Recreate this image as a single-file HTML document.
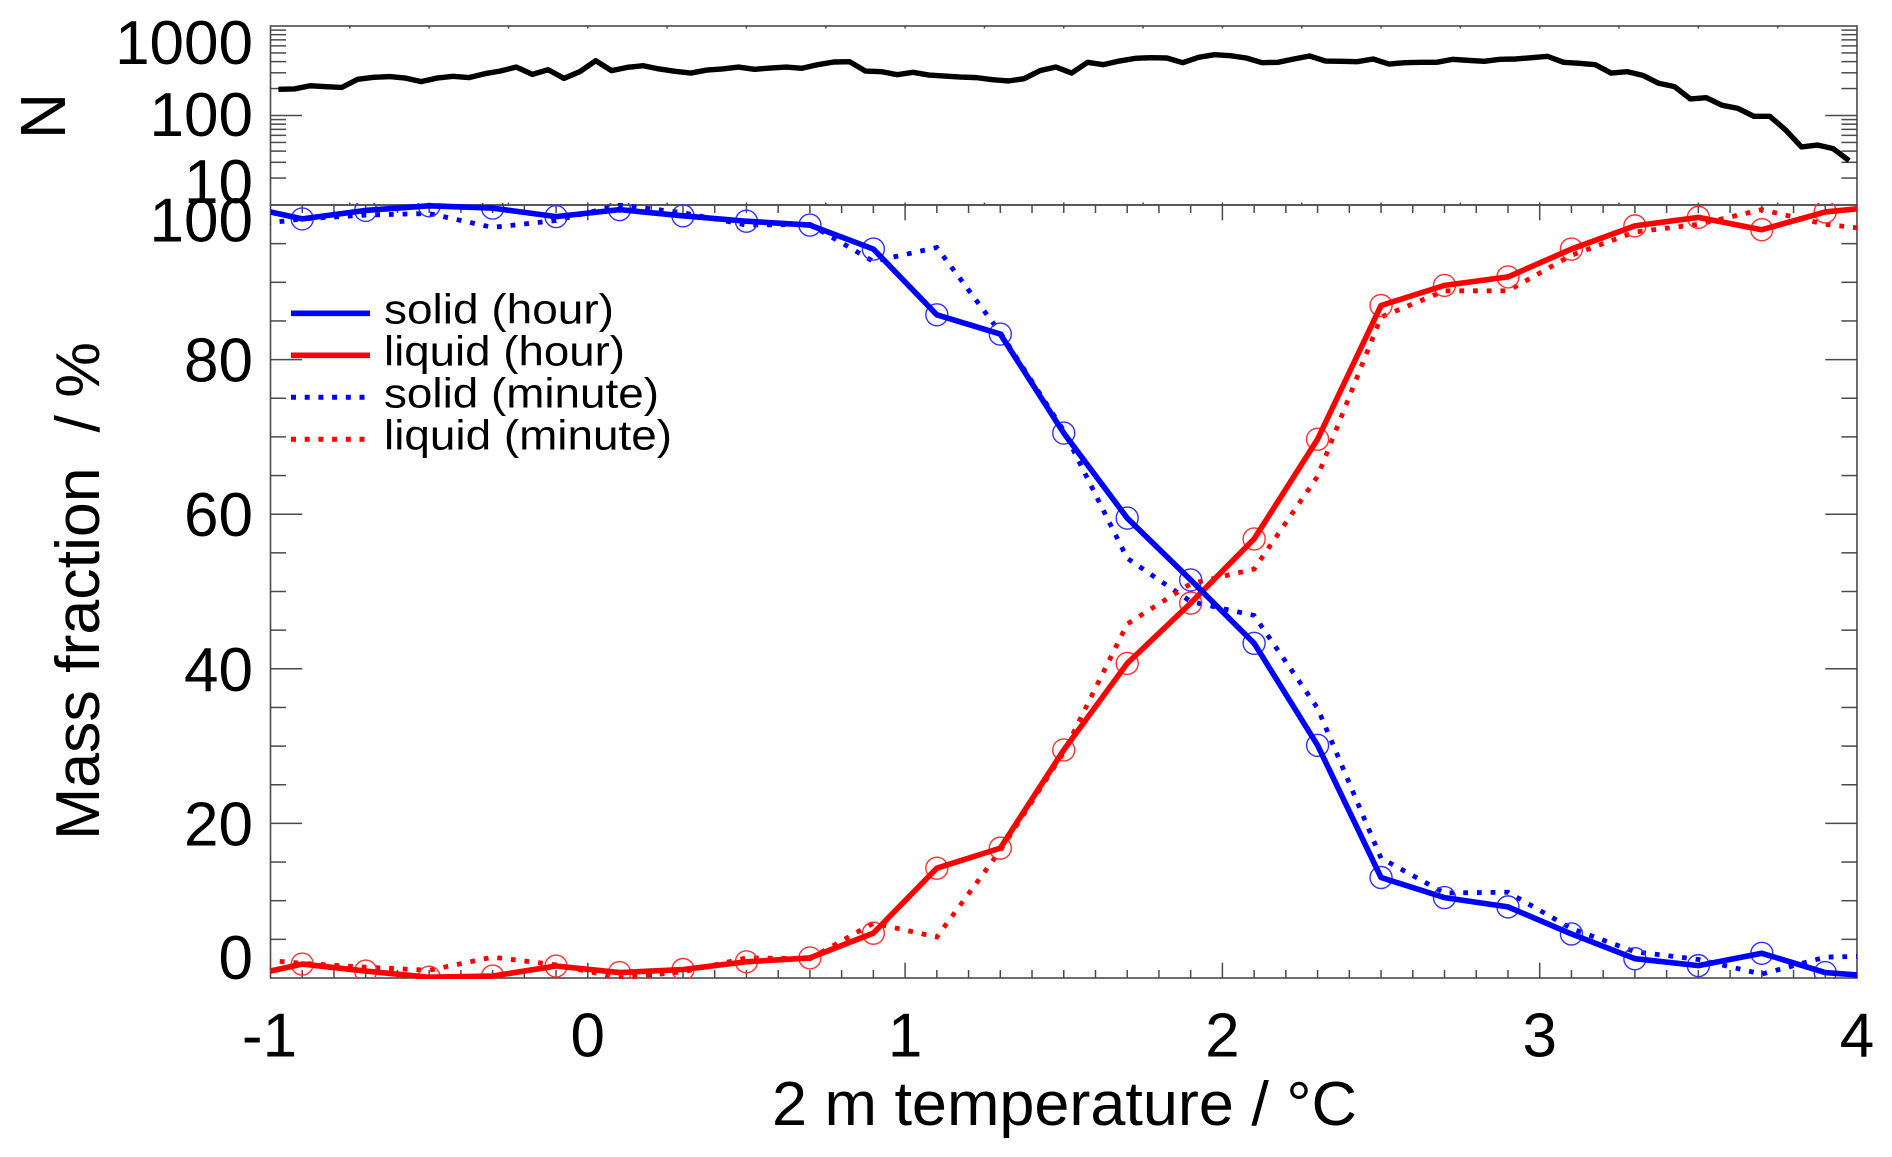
<!DOCTYPE html>
<html lang="en">
<head>
<meta charset="utf-8">
<title>Mass fraction vs 2 m temperature</title>
<style>
html,body{margin:0;padding:0;background:#fff;}
svg{display:block;}
text{font-family:"Liberation Sans",Arial,sans-serif;fill:#000;}
.big{font-size:62px;}
.leg{font-size:42px;}
</style>
</head>
<body>
<svg id="chart" xmlns="http://www.w3.org/2000/svg" width="1892" height="1157" viewBox="0 0 1892 1157">
  <defs>
    <clipPath id="clip-low"><rect x="270.5" y="203" width="1586.5" height="776"></rect></clipPath>
    <clipPath id="clip-top"><rect x="270.5" y="26" width="1586.5" height="179"></rect></clipPath>
  </defs>
  <g id="axes"></g>
  <g id="series"></g>
  <g id="labels"></g>

  <text class="big" transform="translate(65,116) rotate(-90)" text-anchor="middle" style="font-size:64px">N</text>
  <text class="big" transform="translate(99,342) rotate(-90) translate(-498,0)" textLength="498" lengthAdjust="spacingAndGlyphs" style="white-space:pre">Mass fraction  / %</text>
  <text class="big" x="772" y="1125" textLength="585" lengthAdjust="spacingAndGlyphs">2 m temperature / °C</text>

  <g>
    <line x1="291" x2="370" y1="313.3" y2="313.3" stroke="#0000ff" stroke-width="5.6"></line>
    <line x1="291" x2="370" y1="355.3" y2="355.3" stroke="#ff0000" stroke-width="5.6"></line>
    <line x1="291" x2="366" y1="397.3" y2="397.3" stroke="#0000ff" stroke-width="5" stroke-dasharray="5 8.7"></line>
    <line x1="291" x2="366" y1="439.3" y2="439.3" stroke="#ff0000" stroke-width="5" stroke-dasharray="5 8.7"></line>
    <text class="leg" x="384" y="323.5" textLength="230" lengthAdjust="spacingAndGlyphs">solid (hour)</text>
    <text class="leg" x="384" y="365.5" textLength="241" lengthAdjust="spacingAndGlyphs">liquid (hour)</text>
    <text class="leg" x="384" y="407.5" textLength="275" lengthAdjust="spacingAndGlyphs">solid (minute)</text>
    <text class="leg" x="384" y="449.5" textLength="288" lengthAdjust="spacingAndGlyphs">liquid (minute)</text>
  </g>
</svg>
<script>
// ---- chart data ----
var temperatureBins = [-1.1,-0.9,-0.7,-0.5,-0.3,-0.1,0.1,0.3,0.5,0.7,0.9,1.1,1.3,1.5,1.7,1.9,2.1,2.3,2.5,2.7,2.9,3.1,3.3,3.5,3.7,3.9,4.1];
var solidHour    = [100,98.2,99.3,99.9,99.6,98.5,99.4,98.6,97.9,97.4,94.3,85.8,83.3,70.5,59.5,51.5,43.3,30.1,13.0,10.4,9.2,5.7,2.5,1.6,3.2,0.7,0.1];
var liquidHour   = [0,1.8,0.9,0.1,0.25,1.55,0.7,1.1,2.1,2.6,5.8,14.2,16.8,29.5,40.7,48.5,56.8,69.7,87.0,89.6,90.7,94.3,97.3,98.4,96.8,99.1,99.9];
var solidMinute  = [97.2,98.2,98.7,98.9,97.1,98,100,99,97.4,97.5,92.7,94.5,83.5,70.8,54.3,48.7,46.9,34.9,15.5,11.0,11.1,6.4,3.4,2.4,0.5,2.7,2.9];
var liquidMinute = [2.6,1.9,1.4,1.0,2.7,1.7,0,0.8,2.6,2.5,7.1,5.3,16.5,29.2,45.8,51,52.9,64.9,85.5,88.9,88.9,93.5,96.5,97.5,99.4,97.5,96.6];
var sampleCounts = [196,198,215,210,206,254,267,272,262,239,262,274,265,293,314,348,288,325,260,309,
  410,317,345,360,331,312,298,322,331,348,328,339,348,337,370,396,399,314,309,286,
  304,283,276,269,265,251,243,258,317,348,298,393,370,406,435,443,439,389,447,478,
  466,439,389,393,428,462,406,403,399,428,376,389,393,393,424,413,403,424,428,443,
  458,393,383,370,298,309,281,229,210,153,158,130,120,98,98,69,44.5,46.8,42.6,31.3];
var xTickLabels = [-1,0,1,2,3,4];
var fractionTickLabels = [0,20,40,60,80,100];
var countTickLabels = [10,100,1000];
var countMinorDecades = [10,100];
var countMinorFactors = [2,3,4,5,6,7,8,9];

// ---- scales ----
var plotLeft = 270.5, plotRight = 1857, topY = 26, splitY = 205, bottomY = 978;
function xS(t){ return plotLeft + (t + 1) * (plotRight - plotLeft) / 5; }
function yLow(v){ return bottomY - v * (bottomY - splitY) / 100; }
function yTop(n){ return splitY - (Math.log10(n) - 1) * (splitY - topY) / 2; }

var NS = 'http://www.w3.org/2000/svg';
var axes = document.getElementById('axes');
var series = document.getElementById('series');
var labels = document.getElementById('labels');
var AXC = '#4a4a4a';

function mk(parent, tag){
  var el = document.createElementNS(NS, tag);
  parent.appendChild(el);
  return el;
}
function tick(x1, y1, x2, y2, w){
  var el = mk(axes, 'line');
  el.setAttribute('x1', x1); el.setAttribute('y1', y1);
  el.setAttribute('x2', x2); el.setAttribute('y2', y2);
  el.setAttribute('stroke', AXC);
  el.setAttribute('stroke-width', w || 1.5);
  
  
  return el;
}
function label(txt, x, y, anchor){
  var el = mk(labels, 'text');
  el.setAttribute('class', 'big');
  el.setAttribute('x', x);
  el.setAttribute('y', y);
  el.setAttribute('text-anchor', anchor);
  el.textContent = txt;
  
  
  return el;
}

// ---- frames ----
var frameTop = mk(axes, 'rect');
frameTop.setAttribute('x', plotLeft); frameTop.setAttribute('y', topY);
frameTop.setAttribute('width', plotRight - plotLeft); frameTop.setAttribute('height', splitY - topY);
frameTop.setAttribute('fill', 'none'); frameTop.setAttribute('stroke', AXC); frameTop.setAttribute('stroke-width', 1.6);



var frameLow = mk(axes, 'rect');
frameLow.setAttribute('x', plotLeft); frameLow.setAttribute('y', splitY);
frameLow.setAttribute('width', plotRight - plotLeft); frameLow.setAttribute('height', bottomY - splitY);
frameLow.setAttribute('fill', 'none'); frameLow.setAttribute('stroke', AXC); frameLow.setAttribute('stroke-width', 1.6);



// ---- x ticks of the main panel, every 0.1, longer on integers ----
for (var i = 1; i < 50; i++) {
  var xt = xS(-1 + i / 10);
  var lenX = (i % 10 === 0) ? 15.3 : 8;
  tick(xt, splitY, xt, splitY + lenX);
  tick(xt, bottomY, xt, bottomY - lenX);
}
// ---- x ticks of the count panel, every 0.25 ----
for (var j = 1; j < 20; j++) {
  var xu = xS(-1 + j / 4);
  tick(xu, topY, xu, topY + 2.5);
  tick(xu, splitY, xu, splitY - 2.5);
}
// ---- y ticks of the main panel ----
for (var k = 5; k < 100; k += 5) {
  var yt = yLow(k);
  var lenY = (k % 20 === 0) ? 31.7 : 15.6;
  tick(plotLeft, yt, plotLeft + lenY, yt);
  tick(plotRight, yt, plotRight - lenY, yt);
}
// ---- y ticks of the log count panel ----
countTickLabels.forEach(function (v) {
  if (v === 100) {
    tick(plotLeft, yTop(v), plotLeft + 31.7, yTop(v));
    tick(plotRight, yTop(v), plotRight - 31.7, yTop(v));
  }
});
countMinorDecades.forEach(function (d) {
  countMinorFactors.forEach(function (f) {
    var ym = yTop(d * f);
    tick(plotLeft, ym, plotLeft + 15.6, ym);
    tick(plotRight, ym, plotRight - 15.6, ym);
  });
});

// ---- tick labels ----
xTickLabels.forEach(function (v) {
  label(String(v), xS(v) - (v < 0 ? 1 : 0), 1056.5, 'middle');
});
fractionTickLabels.forEach(function (v) {
  label(String(v), 253, Math.max(241.7, Math.min(979, yLow(v) + 22)), 'end');
});
countTickLabels.forEach(function (v) {
  label(String(v), 253, Math.max(64, Math.min(203, yTop(v) + 20.5)), 'end');
});

// ---- series ----
function pathFrom(xs, ys, fx, fy){
  var d = '';
  for (var n = 0; n < xs.length; n++) {
    d += (n ? 'L' : 'M') + fx(xs[n]).toFixed(2) + ' ' + fy(ys[n]).toFixed(2);
  }
  return d;
}
var lowGroup = mk(series, 'g');
lowGroup.setAttribute('clip-path', 'url(#clip-low)');



var topGroup = mk(series, 'g');
topGroup.setAttribute('clip-path', 'url(#clip-top)');



var countTemps = sampleCounts.map(function (_, i) { return -0.975 + 0.05 * i; });
var countLine = mk(topGroup, 'path');
countLine.setAttribute('d', pathFrom(countTemps, sampleCounts, xS, yTop));
countLine.setAttribute('fill', 'none');
countLine.setAttribute('stroke', '#000');
countLine.setAttribute('stroke-width', 5.4);
countLine.setAttribute('stroke-linejoin', 'round');



var dotSolid = mk(lowGroup, 'path');
dotSolid.setAttribute('d', pathFrom(temperatureBins, solidMinute, xS, yLow));
dotSolid.setAttribute('fill', 'none');
dotSolid.setAttribute('stroke', '#0000ff');
dotSolid.setAttribute('stroke-width', 4.8);
dotSolid.setAttribute('stroke-dasharray', '4.8 8.9');



var dotLiquid = mk(lowGroup, 'path');
dotLiquid.setAttribute('d', pathFrom(temperatureBins, liquidMinute, xS, yLow));
dotLiquid.setAttribute('fill', 'none');
dotLiquid.setAttribute('stroke', '#ff0000');
dotLiquid.setAttribute('stroke-width', 4.8);
dotLiquid.setAttribute('stroke-dasharray', '4.8 8.9');



function markers(values, color, name){
  for (var m = 1; m < temperatureBins.length - 1; m++) {
    var c = mk(lowGroup, 'circle');
    c.setAttribute('cx', xS(temperatureBins[m]));
    c.setAttribute('cy', yLow(values[m]));
    c.setAttribute('r', 11);
    c.setAttribute('fill', 'none');
    c.setAttribute('stroke', color);
    c.setAttribute('stroke-width', 1.4);
    
    
  }
}
markers(liquidHour, '#ff3030', 'liquid-hour-marker');
markers(solidHour, '#3030ff', 'solid-hour-marker');

var lineLiquid = mk(lowGroup, 'path');
lineLiquid.setAttribute('d', pathFrom(temperatureBins, liquidHour, xS, yLow));
lineLiquid.setAttribute('fill', 'none');
lineLiquid.setAttribute('stroke', '#ff0000');
lineLiquid.setAttribute('stroke-width', 5.6);
lineLiquid.setAttribute('stroke-linejoin', 'round');



var lineSolid = mk(lowGroup, 'path');
lineSolid.setAttribute('d', pathFrom(temperatureBins, solidHour, xS, yLow));
lineSolid.setAttribute('fill', 'none');
lineSolid.setAttribute('stroke', '#0000ff');
lineSolid.setAttribute('stroke-width', 5.6);
lineSolid.setAttribute('stroke-linejoin', 'round');


</script>
</body>
</html>
